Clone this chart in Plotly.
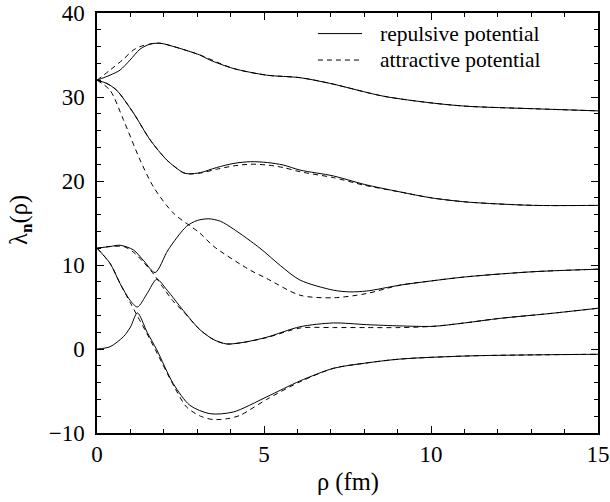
import plotly.graph_objects as go

# ---- data ----
# repulsive potential (solid)
rep_top_x = [0, 0.39, 0.69, 0.99, 1.29, 1.59, 1.89, 2.3, 3.08, 3.38, 4.08, 5.08, 6.08, 7.0, 8.57, 10.0, 11.07, 13.1, 15]
rep_top_y = [32.0, 32.6, 33.2, 34.4, 35.7, 36.3, 36.4, 36.0, 35.0, 34.4, 33.4, 32.6, 32.3, 31.6, 30.1, 29.3, 28.9, 28.6, 28.35]

rep_2_x = [0, 0.3, 0.59, 1.09, 1.59, 2.09, 2.58, 2.75, 3.1, 3.58, 4.1, 4.6, 5.1, 5.58, 6.08, 7.08, 8.0, 9.07, 10.0, 11.07, 13.06, 15]
rep_2_y = [32.0, 31.6, 30.8, 28.1, 24.9, 22.5, 21.0, 20.85, 21.0, 21.6, 22.1, 22.3, 22.2, 21.9, 21.3, 20.6, 19.6, 18.7, 18.0, 17.5, 17.1, 17.1]

rep_3_x = [0, 0.39, 0.69, 1.09, 1.4, 1.74, 2.13, 2.68, 3.0, 3.35, 3.7, 4.08, 4.88, 5.5, 6.08, 7.08, 7.57, 8.07, 9.07, 10.0, 11.07, 13.06, 15]
rep_3_y = [12.0, 12.2, 12.35, 11.8, 10.5, 9.1, 11.8, 14.6, 15.3, 15.5, 15.2, 14.3, 12.0, 9.9, 8.2, 7.0, 6.8, 6.9, 7.6, 8.1, 8.6, 9.2, 9.5]

rep_4_x = [0, 0.39, 0.69, 0.99, 1.21, 1.5, 1.79, 2.1, 2.58, 3.08, 3.5, 3.88, 4.4, 5.08, 6.08, 7.08, 8.07, 9.07, 10.07, 11.0, 12.07, 13.5, 15]
rep_4_y = [12.0, 10.2, 7.8, 5.8, 5.0, 6.6, 8.3, 7.0, 4.6, 2.3, 1.1, 0.6, 0.8, 1.4, 2.65, 3.1, 2.9, 2.75, 2.7, 3.1, 3.65, 4.2, 4.85]

rep_5_x = [0, 0.39, 0.79, 1.0, 1.21, 1.5, 1.79, 2.28, 2.78, 3.38, 4.08, 5.08, 6.08, 7.08, 8.0, 9.07, 11.07, 13.06, 15]
rep_5_y = [0.0, 0.27, 1.46, 2.6, 4.3, 2.0, -0.1, -4.1, -6.7, -7.7, -7.5, -5.7, -3.8, -2.3, -1.7, -1.2, -0.83, -0.7, -0.63]

# attractive potential (dashed)
att_top_x = [0, 0.39, 0.79, 1.09, 1.29, 1.59, 1.89, 2.3, 3.08, 4.08, 5.08, 6.08, 7.0, 8.57, 10.0, 11.07, 13.1, 15]
att_top_y = [32.0, 33.2, 34.5, 35.6, 36.0, 36.3, 36.4, 36.0, 35.0, 33.4, 32.6, 32.3, 31.6, 30.1, 29.3, 28.9, 28.6, 28.35]

att_2_x = [0, 0.3, 0.59, 1.09, 1.59, 2.09, 2.58, 2.75, 3.1, 3.58, 4.1, 4.6, 5.1, 5.58, 6.08, 7.08, 8.0, 9.07, 10.0, 11.07, 13.06, 15]
att_2_y = [32.0, 31.6, 30.8, 28.1, 24.9, 22.5, 21.0, 20.85, 20.95, 21.4, 21.8, 22.0, 21.9, 21.6, 21.1, 20.4, 19.5, 18.7, 18.0, 17.5, 17.1, 17.1]

att_3_x = [0, 0.39, 0.79, 1.29, 1.69, 2.28, 3.08, 3.5, 4.58, 5.08, 6.08, 7.08, 8.07, 9.07, 10.0, 11.07, 13.06, 15]
att_3_y = [32.0, 30.8, 27.3, 22.5, 19.3, 16.2, 13.8, 12.2, 9.4, 8.4, 6.4, 6.1, 6.6, 7.6, 8.1, 8.6, 9.2, 9.5]

att_4_x = [0, 0.4, 0.8, 1.1, 1.4, 1.7, 2.0, 2.3, 2.6, 3.08, 3.5, 3.88, 4.4, 5.08, 6.08, 7.08, 8.07, 9.07, 10.07, 11.0, 12.07, 13.5, 15]
att_4_y = [12.0, 12.2, 12.2, 11.5, 10.3, 8.9, 7.2, 5.6, 4.4, 2.3, 1.1, 0.6, 0.8, 1.35, 2.5, 2.55, 2.55, 2.55, 2.7, 3.1, 3.65, 4.2, 4.85]

att_5_x = [0, 0.39, 0.69, 1.0, 1.2, 1.5, 1.8, 2.3, 2.68, 3.1, 3.48, 3.9, 4.28, 5.08, 6.08, 7.08, 8.0, 9.07, 11.07, 13.06, 15]
att_5_y = [12.0, 10.2, 7.8, 5.5, 4.0, 1.8, -0.5, -4.4, -6.9, -8.0, -8.4, -8.3, -7.9, -6.0, -3.9, -2.3, -1.7, -1.2, -0.83, -0.7, -0.63]

solid = [(rep_top_x, rep_top_y), (rep_2_x, rep_2_y), (rep_3_x, rep_3_y), (rep_4_x, rep_4_y), (rep_5_x, rep_5_y)]
dashed = [(att_top_x, att_top_y), (att_2_x, att_2_y), (att_3_x, att_3_y), (att_4_x, att_4_y), (att_5_x, att_5_y)]

series_names = ["repulsive potential", "attractive potential"]
x_ticks = [0, 5, 10, 15]
y_ticks = [-10, 0, 10, 20, 30, 40]
y_tick_text = ["\u221210", "0", "10", "20", "30", "40"]
x_title = "\u03c1 (fm)"
y_title = "\u03bb<sub><b>n</b></sub>(\u03c1)"

DASH = "5px,4px"
fig = go.Figure()
for xs, ys in dashed:
    fig.add_trace(go.Scatter(x=xs, y=ys, mode="lines", showlegend=False, name=series_names[1],
                             line=dict(color="black", width=1, dash=DASH, shape="spline", smoothing=0.8)))
for xs, ys in solid:
    fig.add_trace(go.Scatter(x=xs, y=ys, mode="lines", showlegend=False, name=series_names[0],
                             line=dict(color="black", width=1, shape="spline", smoothing=0.8)))

font_family = "Liberation Serif"
axis_common = dict(showline=True, linecolor="black", linewidth=1.5, mirror="ticks", ticks="inside",
                   tickcolor="black", ticklen=7, tickwidth=1, showgrid=False, zeroline=False, automargin=False,
                   ticklabeloverflow="allow",
                   tickfont=dict(family=font_family, size=23, color="black"))
fig.update_xaxes(range=[0, 15], tickvals=x_ticks, ticktext=[str(v) for v in x_ticks],
                 minor=dict(dtick=1, ticks="inside", ticklen=4, tickcolor="black", showgrid=False),
                 **axis_common)
fig.update_yaxes(range=[-10, 40], tickvals=y_ticks, ticktext=y_tick_text, ticklabelstandoff=6,
                 minor=dict(dtick=2, ticks="inside", ticklen=4, tickcolor="black", showgrid=False),
                 **axis_common)

# legend drawn as line samples + text (compact spacing like the original)
leg_font = dict(family=font_family, size=21.5, color="black")
legend_rows = [(0.951, None), (0.888, DASH)]
for (yy, dash), name in zip(legend_rows, series_names):
    fig.add_shape(type="line", xref="paper", yref="paper", x0=0.441, x1=0.529, y0=yy, y1=yy,
                  line=dict(color="black", width=1, dash=dash))
    fig.add_annotation(xref="paper", yref="paper", x=0.561, y=yy, text=name, showarrow=False,
                       xanchor="left", yanchor="middle", font=leg_font)

# axis titles
fig.add_annotation(xref="paper", yref="paper", x=0.5, y=-0.117, text=x_title, showarrow=False,
                   xanchor="center", yanchor="middle", font=dict(family=font_family, size=24.5, color="black"))
fig.add_annotation(xref="paper", yref="paper", x=-0.154, y=0.507, text=y_title, showarrow=False, textangle=-90,
                   xanchor="center", yanchor="middle", font=dict(family=font_family, size=24.5, color="black"))

fig.update_layout(
    width=610, height=502,
    margin=dict(l=97, r=12, t=13, b=69),
    paper_bgcolor="white", plot_bgcolor="white",
    font=dict(family=font_family, color="black"),
    showlegend=False,
)
# remove the default 8px page margin so the figure fills the window exactly
fig.write_html("out.html", config={"displayModeBar": False},
               post_script="document.body.style.margin='0';")
